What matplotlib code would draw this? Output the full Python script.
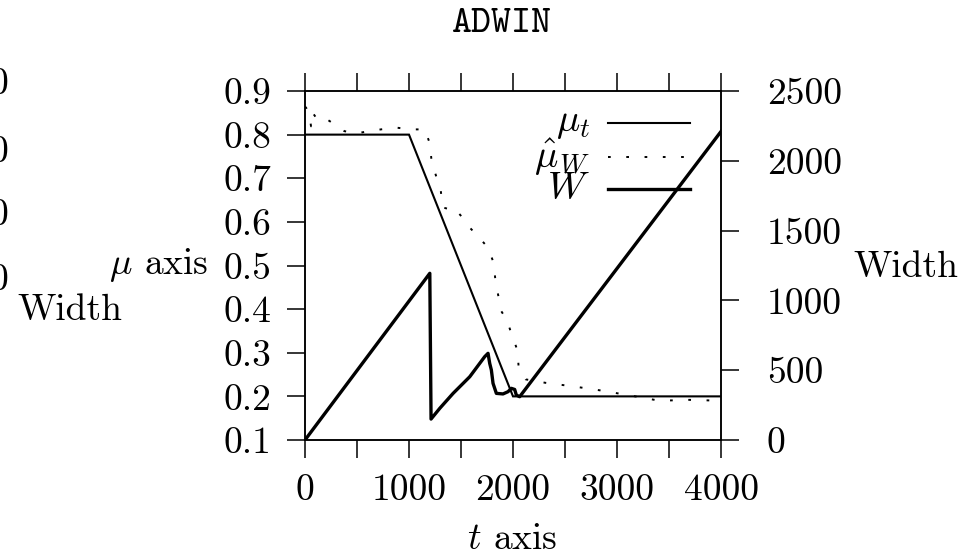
import matplotlib
matplotlib.use("Agg")
import matplotlib.pyplot as plt
from matplotlib.lines import Line2D
from matplotlib.ticker import FixedLocator, NullFormatter

plt.rcParams["mathtext.fontset"] = "cm"
plt.rcParams["font.family"] = ["cmr10", "DejaVu Serif"]
plt.rcParams["axes.formatter.use_mathtext"] = True

# true mean of the stream
t_mu = [0, 1000, 2000, 4000]
mu_true = [0.8, 0.8, 0.2, 0.2]

# ADWIN estimate of the mean
t_est = [0, 10, 41, 58, 74, 118, 185, 282, 378, 490, 730, 880, 1014, 1152,
         1200, 1216, 1258, 1306, 1322, 1376, 1430, 1514, 1568, 1674, 1760,
         1814, 1830, 1856, 1888, 1942, 1984, 2042, 2054, 2122, 2314, 2576,
         2832, 3104, 3408, 3696, 4000]
mu_est = [0.864, 0.862, 0.847, 0.819, 0.850, 0.835, 0.839, 0.824, 0.808,
          0.803, 0.812, 0.816, 0.812, 0.812, 0.780, 0.742, 0.707, 0.671,
          0.633, 0.630, 0.633, 0.610, 0.591, 0.564, 0.541, 0.506, 0.468,
          0.434, 0.395, 0.375, 0.344, 0.306, 0.268, 0.239, 0.231, 0.223,
          0.214, 0.203, 0.190, 0.192, 0.190]

# ADWIN window width
t_w = [0, 1200, 1212, 1296, 1424, 1584, 1728, 1760, 1776, 1792, 1808, 1840,
       1904, 1952, 1984, 2016, 2032, 2064, 4000]
width = [0, 1194, 150, 227, 334, 453, 597, 621, 549, 501, 406, 334, 330,
         346, 370, 362, 322, 310, 2210]

x_ticks = [0, 1000, 2000, 3000, 4000]
x_minor = [500, 1500, 2500, 3500]
mu_ticks = [0.1, 0.2, 0.3, 0.4, 0.5, 0.6, 0.7, 0.8, 0.9]
w_ticks = [0, 500, 1000, 1500, 2000, 2500]

W_PX, H_PX = 980, 558
fig = plt.figure(figsize=(W_PX / 100, H_PX / 100), dpi=100)
left, right, top, bottom = 305, 721, 91, 440
ax = fig.add_axes([left / W_PX, 1 - bottom / H_PX,
                   (right - left) / W_PX, (bottom - top) / H_PX])
ax2 = ax.twinx()

FS = 27
tick_kw = dict(direction="out", length=13, width=1.1, colors="black")

ax.set_xlim(0, 4000)
ax.set_ylim(0.1, 0.9)
ax2.set_ylim(0, 2500)

ax.xaxis.set_major_locator(FixedLocator(x_ticks))
ax.xaxis.set_minor_locator(FixedLocator(x_minor))
ax.xaxis.set_minor_formatter(NullFormatter())
ax.set_xticklabels([str(v) for v in x_ticks])
ax.yaxis.set_major_locator(FixedLocator(mu_ticks))
ax.set_yticklabels([f"{v:.1f}" for v in mu_ticks])
ax2.yaxis.set_major_locator(FixedLocator(w_ticks))
ax2.set_yticklabels([str(v) for v in w_ticks])

ax.tick_params(axis="x", which="both", top=True, bottom=True, pad=11,
               labelsize=FS, **tick_kw)
ax.tick_params(axis="y", which="both", left=True, right=False, pad=11,
               labelsize=FS, **tick_kw)
ax2.tick_params(axis="y", which="both", right=True, left=False, pad=20,
                labelsize=FS, **tick_kw)
for a in (ax, ax2):
    for s in a.spines.values():
        s.set_linewidth(1.1)

ax.plot(t_mu, mu_true, color="black", lw=1.5, solid_joinstyle="miter")
ax.plot(t_est, mu_est, color="black", lw=1.4, linestyle=(0, (1.4, 8)))
ax2.plot(t_w, width, color="black", lw=2.4)

# axis labels
fig.text(208 / W_PX, 1 - 265 / H_PX, r"$\mu$ axis", ha="right", va="center",
         fontsize=FS)
fig.text(853 / W_PX, 1 - 267 / H_PX, "Width", ha="left", va="center",
         fontsize=FS)
fig.text(512 / W_PX, 1 - 539 / H_PX, r"$t$ axis", ha="center", va="center",
         fontsize=FS)
fig.text(502 / W_PX, 1 - 24 / H_PX, "ADWIN", ha="center", va="center",
         fontsize=27.5, family=["cmtt10", "DejaVu Sans Mono"])

# right-hand labels of the neighbouring panel
for yp in (84, 152, 215, 280):
    fig.text(8 / W_PX, 1 - yp / H_PX, "0", ha="right", va="center",
             fontsize=FS)
fig.text(17 / W_PX, 1 - 310 / H_PX, "Width", ha="left", va="center",
         fontsize=FS)

# key
keys = [(r"$\mu_t$", 123, dict(lw=1.5, ls="-")),
        (r"$\hat{\mu}_W$", 157, dict(lw=1.4, ls=(0, (1.4, 8)))),
        (r"$W$", 189, dict(lw=2.4, ls="-"))]
for label, yp, style in keys:
    ya = (bottom - yp) / (bottom - top)
    ax2.text((590 - left) / (right - left), ya, label, transform=ax2.transAxes,
             ha="right", va="center", fontsize=28)
    ax2.add_line(Line2D([(608 - left) / (right - left),
                         (690 - left) / (right - left)], [ya, ya],
                        transform=ax2.transAxes, color="black", **style))

fig.savefig("out.png", dpi=100, facecolor="white")
